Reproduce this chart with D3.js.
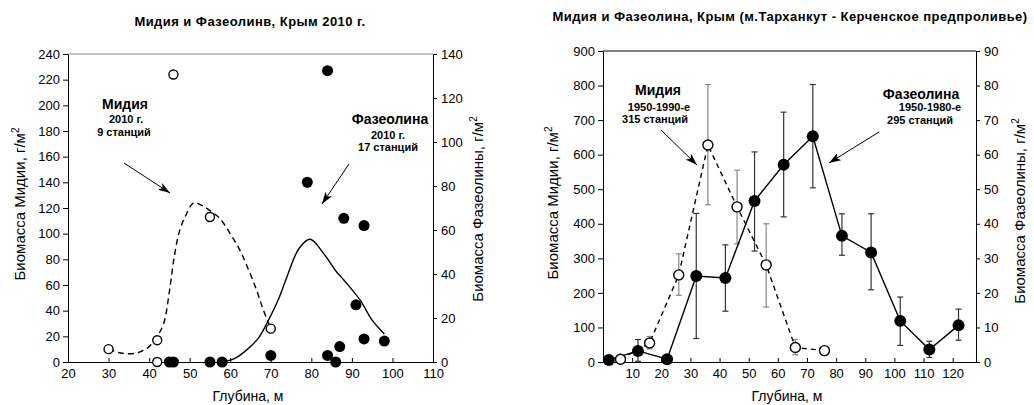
<!DOCTYPE html>
<html><head><meta charset="utf-8">
<script src="https://cdn.jsdelivr.net/npm/d3@7"></script>
<style>
body{margin:0;background:#fff}
svg text{font-family:"Liberation Sans",Arial,sans-serif;fill:#000}
</style>
</head><body>
<svg id="c" width="1034" height="405"></svg>
<script>
// ---------- Left chart data (2010) ----------
const leftXTicks = [20,30,40,50,60,70,80,90,100,110];
const leftYTicks = [0,20,40,60,80,100,120,140,160,180,200,220,240];
const leftY2Ticks = [0,20,40,60,80,100,120,140];
const leftMusselDepth   = [30,42,42,46,55,70];
const leftMusselBiomass = [10,17,0,224,113,26];
const leftPhaseDepth    = [84,79,88,93,91,93,98,87,84,86,70,55,58,45,46];
const leftPhaseBiomass  = [132.4,81.7,65.3,62,26,10.5,9.5,7,3,0,3,0,0,0,0];
const leftMusselCurveDepth = [30,33,37,40,42,43.6,45,46.2,47.5,49,51,53,55,57.4,60,62.4,64.5,66.5,68,70];
const leftMusselCurveValue = [10,7,7,12,20,30,55,82,102,114,124,122,118,112,100,87,72,56,42,26];
const leftPhaseCurveDepth = [58,61,64,67,69,72,74,77,79.7,83,86,88,92,95,98];
const leftPhaseCurveValue = [0,1.5,5.4,11,17.5,29,38.8,51.7,55.8,49.4,41.5,37.3,28.2,19,12.7];

// ---------- Right chart data (1950-1990s) ----------
const rightXTicks = [10,20,30,40,50,60,70,80,90,100,110,120];
const rightYTicks = [0,100,200,300,400,500,600,700,800,900];
const rightY2Ticks = [0,10,20,30,40,50,60,70,80,90];
const musselDepth = [6,16,26,36,46,56,66,76];
const musselMean  = [8,55,252,628,449,281,42,33];
const musselLow   = [null,38,193,455,342,159,21,null];
const musselHigh  = [null,74,313,803,555,400,65,null];
const phaseDepth = [2,12,22,32,42,52,62,72,82,92,102,112,122];
const phaseMean  = [0.6,3.2,0.8,24.9,24.3,46.6,57.1,65.3,36.5,31.7,11.9,3.6,10.6];
const phaseLow   = [null,0.2,null,6.8,14.7,32.1,42,50.4,30.9,20.9,4.8,1.3,6.3];
const phaseHigh  = [null,6.5,null,43,33.9,60.8,72.3,80.3,42.9,42.9,18.8,6,15.3];

const svg = d3.select("#c");
const defs = svg.append("defs");
defs.append("marker").attr("id","arr").attr("viewBox","0 0 12 8")
  .attr("refX",12).attr("refY",4).attr("markerWidth",12).attr("markerHeight",8)
  .attr("markerUnits","userSpaceOnUse").attr("orient","auto")
  .append("path").attr("d","M0,0 L12,4 L0,8 L3,4 Z").attr("fill","#000");

function frame(g, x, y, y2, xt, yt, y2t, topColor){
  const [x0,x1] = x.range(), [yb,yt0] = y.range();
  const ax = g.append("g").attr("transform",`translate(0,${yb})`)
    .call(d3.axisBottom(x).tickValues(xt).tickSizeInner(-4).tickSizeOuter(0).tickPadding(7));
  const ay = g.append("g").attr("transform",`translate(${x0},0)`)
    .call(d3.axisLeft(y).tickValues(yt).tickSizeInner(5).tickSizeOuter(0).tickPadding(3));
  const ay2 = g.append("g").attr("transform",`translate(${x1},0)`)
    .call(d3.axisRight(y2).tickValues(y2t).tickSizeInner(4).tickSizeOuter(0).tickPadding(4));
  [ax,ay,ay2].forEach(a=>{
    a.selectAll("text").style("font-family","'Liberation Sans',Arial,sans-serif").style("font-size","13px").attr("fill","#000");
    a.selectAll("line,path").attr("stroke","#000");
  });
  g.append("line").attr("x1",x0).attr("x2",x1).attr("y1",yt0).attr("y2",yt0)
    .attr("stroke",topColor).attr("stroke-width",1);
}

function label(g, txt, x, y, rot, size){
  const t = g.append("text").attr("text-anchor","middle")
    .attr("transform",`translate(${x},${y}) rotate(${rot})`)
    .style("font-size",size+"px");
  t.append("tspan").text(txt);
  t.append("tspan").text("2").attr("dy",-6).style("font-size","10px");
}

function textBlock(g, lines){
  lines.forEach(l=>{
    g.append("text").attr("x",l[0]).attr("y",l[1]).attr("text-anchor","middle")
      .style("font-size",l[3]+"px").style("font-weight","bold").text(l[2]);
  });
}

function arrow(g, x1,y1,x2,y2){
  g.append("line").attr("x1",x1).attr("y1",y1).attr("x2",x2).attr("y2",y2)
    .attr("stroke","#000").attr("stroke-width",1).attr("marker-end","url(#arr)");
}

function title(g, x, y, txt){
  g.append("text").attr("x",x).attr("y",y).attr("text-anchor","middle")
    .style("font-size","13px").style("font-weight","bold").style("letter-spacing","0.45px").text(txt);
}

// ================= LEFT CHART =================
{
  const g = svg.append("g");
  const x = d3.scaleLinear().domain([20,110]).range([68,433]);
  const y = d3.scaleLinear().domain([0,240]).range([362,54]);
  const y2 = d3.scaleLinear().domain([0,140]).range([362,54]);
  frame(g,x,y,y2,leftXTicks,leftYTicks,leftY2Ticks,"#888");

  title(g,250,26,"Мидия и Фазеолинв, Крым 2010 г.");
  label(g,"Биомасса Мидии, г/м",25,204,-90,15);
  label(g,"Биомасса Фазеолины, г/м",483,209,-90,15);
  g.append("text").attr("x",248).attr("y",401).attr("text-anchor","middle").style("font-size","14px").text("Глубина, м");

  const line = d3.line().curve(d3.curveCatmullRom.alpha(0.5));
  g.append("path").attr("d",line(leftMusselCurveDepth.map((d,i)=>[x(d),y(leftMusselCurveValue[i])])))
    .attr("fill","none").attr("stroke","#000").attr("stroke-width",1.4).attr("stroke-dasharray","6,4");
  g.append("path").attr("d",line(leftPhaseCurveDepth.map((d,i)=>[x(d),y2(leftPhaseCurveValue[i])])))
    .attr("fill","none").attr("stroke","#000").attr("stroke-width",1.4);

  g.selectAll(".lm").data(leftMusselDepth).enter().append("circle")
    .attr("cx",d=>x(d)).attr("cy",(d,i)=>y(leftMusselBiomass[i])).attr("r",4.5)
    .attr("fill","#fff").attr("stroke","#000").attr("stroke-width",1.4);
  g.selectAll(".lp").data(leftPhaseDepth).enter().append("circle")
    .attr("cx",d=>x(d)).attr("cy",(d,i)=>y2(leftPhaseBiomass[i])).attr("r",5.5)
    .attr("fill","#000");

  textBlock(g,[[125,109,"Мидия",14],[126,123,"2010 г.",11],[124,136,"9 станций",11],
               [390,124,"Фазеолина",14],[388,139,"2010 г.",11],[388,151,"17 станций",11]]);
  arrow(g,124,163,170,193);
  arrow(g,349,164,322,204);
}

// ================= RIGHT CHART =================
{
  const g = svg.append("g");
  const x = d3.scaleLinear().domain([0,128]).range([603,976]);
  const y = d3.scaleLinear().domain([0,900]).range([362,51]);
  const y2 = d3.scaleLinear().domain([0,90]).range([362,51]);
  frame(g,x,y,y2,rightXTicks,rightYTicks,rightY2Ticks,"#000");

  title(g,790,21,"Мидия и Фазеолина, Крым (м.Тарханкут - Керченское предпроливье)");
  label(g,"Биомасса Мидии, г/м",558,203,-90,15);
  label(g,"Биомасса Фазеолины, г/м",1025,211,-90,15);
  g.append("text").attr("x",787).attr("y",401).attr("text-anchor","middle").style("font-size","14px").text("Глубина, м");

  const cap = 3;
  function errbars(dep, lo, hi, sc, color){
    dep.forEach((d,i)=>{
      if(lo[i]==null) return;
      const cx = x(d), a = sc(lo[i]), b = sc(hi[i]);
      g.append("line").attr("x1",cx).attr("x2",cx).attr("y1",a).attr("y2",b).attr("stroke",color).attr("stroke-width",1.2);
      [a,b].forEach(v=>g.append("line").attr("x1",cx-cap).attr("x2",cx+cap).attr("y1",v).attr("y2",v).attr("stroke",color).attr("stroke-width",1.2));
    });
  }
  errbars(musselDepth,musselLow,musselHigh,y,"#888");
  errbars(phaseDepth,phaseLow,phaseHigh,y2,"#333");

  const line = d3.line();
  g.append("path").attr("d",line(musselDepth.map((d,i)=>[x(d),y(musselMean[i])])))
    .attr("fill","none").attr("stroke","#000").attr("stroke-width",1.4).attr("stroke-dasharray","5,4");
  g.append("path").attr("d",line(phaseDepth.map((d,i)=>[x(d),y2(phaseMean[i])])))
    .attr("fill","none").attr("stroke","#000").attr("stroke-width",1.4);

  g.selectAll(".rm").data(musselDepth).enter().append("circle")
    .attr("cx",d=>x(d)).attr("cy",(d,i)=>y(musselMean[i])).attr("r",5)
    .attr("fill","#fff").attr("stroke","#000").attr("stroke-width",1.4);
  g.selectAll(".rp").data(phaseDepth).enter().append("circle")
    .attr("cx",d=>x(d)).attr("cy",(d,i)=>y2(phaseMean[i])).attr("r",6)
    .attr("fill","#000");

  textBlock(g,[[658,95,"Мидия",14],[659,111,"1950-1990-е",11],[655,123,"315 станций",11],
               [921,99,"Фазеолина",14],[930,111,"1950-1980-е",11],[920,124,"295 станций",11]]);
  arrow(g,661,130,697,165);
  arrow(g,879,132,829,163);
}
</script>
</body></html>
